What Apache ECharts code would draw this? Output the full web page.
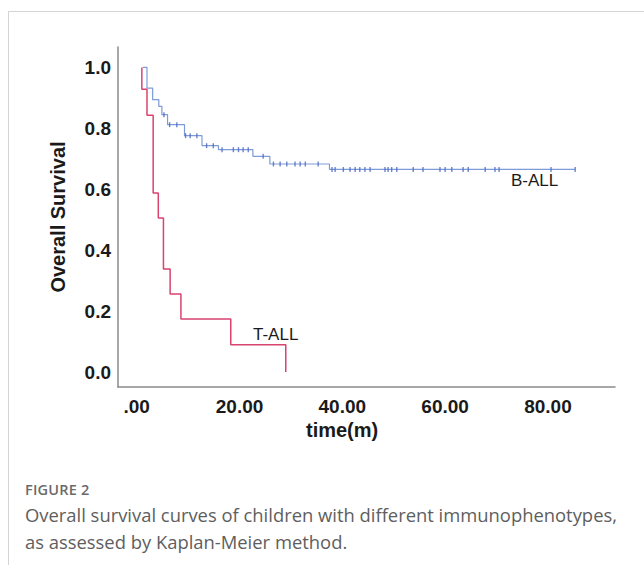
<!DOCTYPE html>
<html>
<head>
<meta charset="utf-8">
<script src="https://cdn.jsdelivr.net/npm/echarts@6/dist/echarts.min.js"></script>
<style>
  html, body { margin: 0; padding: 0; background: #fff; }
  #wrap { position: relative; width: 644px; height: 565px; overflow: hidden; background: #fff; }
  #card { position: absolute; left: 8px; top: 11px; width: 700px; height: 600px; border: 1px solid #d4d4d4; box-sizing: border-box; }
  #chart { position: absolute; left: 0; top: 0; width: 644px; height: 565px; }
  #cap { position: absolute; left: 25px; top: 480px; width: 612px; font-family: "Open Sans", "Noto Sans", sans-serif; color: #5e5e5e; }
  #cap .fig { font-size: 14.5px; font-weight: 600; color: #6a6a6a; letter-spacing: 0.2px; line-height: 20px; }
  #cap .txt { font-size: 18.4px; line-height: 26.5px; margin-top: 2px; white-space: nowrap; }
</style>
</head>
<body>
<div id="wrap">
  <div id="card"></div>
  <div id="chart"></div>
  <div id="cap">
    <div class="fig">FIGURE 2</div>
    <div class="txt">Overall survival curves of children with different immunophenotypes,<br>as assessed by Kaplan-Meier method.</div>
  </div>
</div>
<script>
// ---- data ----
// T-ALL Kaplan-Meier steps (time in months, survival after the step)
const tallTimes = [1.0, 1.0, 2.0, 3.2, 4.2, 5.2, 6.5, 8.6, 18.3, 29.0];
const tallSurv  = [1.0, 0.928, 0.843, 0.588, 0.506, 0.338, 0.256, 0.174, 0.09, 0.0];

// B-ALL Kaplan-Meier steps
const ballTimes = [1.2, 2.0, 3.1, 4.3, 4.9, 6.0, 9.3, 12.7, 15.9, 22.6, 25.9, 37.5, 85.3];
const ballSurv  = [1.0, 0.932, 0.894, 0.872, 0.845, 0.812, 0.776, 0.743, 0.730, 0.708, 0.683, 0.665, 0.665];

// B-ALL censored observations (time in months)
const ballCensor = [5.3, 6.4, 7.8, 9.5, 10.4, 11.7, 13.6, 14.9, 16.6, 18.8, 19.8, 20.7, 21.7,
  24.6, 26.6, 27.9, 29.2, 30.8, 31.8, 32.8, 35.3, 38.0, 38.6, 40.2, 41.5, 42.5, 43.4, 44.4,
  45.4, 48.3, 48.9, 49.6, 50.6, 53.8, 55.7, 59.0, 60.0, 61.3, 63.5, 64.5, 67.8, 69.7, 70.5,
  80.6, 85.3];

const xTicks = [0, 20, 40, 60, 80];
const yTicks = [0, 0.2, 0.4, 0.6, 0.8, 1.0];

const seriesNames = ['T-ALL', 'B-ALL'];

// ---- build ----
function pairs(ts, ss) { return ts.map((t, i) => [t, ss[i]]); }
function survAt(ts, ss, t) {
  let s = ss[0];
  for (let i = 0; i < ts.length; i++) { if (ts[i] <= t) s = ss[i]; }
  return s;
}
const censorPts = ballCensor.map(t => [t, survAt(ballTimes, ballSurv, t)]);

const chart = echarts.init(document.getElementById('chart'), null, { renderer: 'svg' });
const labelFont = { fontFamily: 'Liberation Sans, Arial, sans-serif', fontWeight: 'bold', fontSize: 19, color: '#1a1a1a' };

chart.setOption({
  animation: false,
  backgroundColor: 'transparent',
  grid: { left: 118, top: 47, width: 497, height: 340, containLabel: false },
  xAxis: {
    type: 'value', min: -3.64, max: 93.05,
    axisLine: { show: true, onZero: false, lineStyle: { color: '#8a8a8a', width: 1.5 } },
    axisTick: { show: false },
    splitLine: { show: false },
    axisLabel: Object.assign({ customValues: xTicks, margin: 10,
      formatter: v => (v === 0 ? '.00' : v.toFixed(2)) }, labelFont)
  },
  yAxis: {
    type: 'value', min: -0.049, max: 1.067,
    name: 'Overall Survival', nameLocation: 'middle', nameGap: 50, nameRotate: 90,
    nameTextStyle: { fontFamily: 'Liberation Sans, Arial, sans-serif', fontWeight: 'bold', fontSize: 20, color: '#1a1a1a' },
    axisLine: { show: true, onZero: false, lineStyle: { color: '#8a8a8a', width: 1.5 } },
    axisTick: { show: false },
    splitLine: { show: false },
    axisLabel: Object.assign({ customValues: yTicks, margin: 7,
      formatter: v => v.toFixed(1) }, labelFont)
  },
  series: [
    { name: seriesNames[1], type: 'line', step: 'end', data: pairs(ballTimes, ballSurv),
      showSymbol: false, symbol: 'none', lineStyle: { color: '#7d9bd8', width: 1.2 }, z: 2 },
    { name: seriesNames[1] + ' censored', type: 'scatter', data: censorPts,
      symbol: 'rect', symbolSize: [1.4, 5], itemStyle: { color: '#4a66c2' }, z: 3 },
    { name: seriesNames[0], type: 'line', step: 'end', data: pairs(tallTimes, tallSurv),
      showSymbol: false, symbol: 'none', lineStyle: { color: '#d8436f', width: 1.5 }, z: 4 }
  ],
  graphic: [
    { type: 'text', left: 306, top: 420, style: { text: 'time(m)', font: 'bold 20px "Liberation Sans", Arial, sans-serif', fill: '#1a1a1a' } },
    { type: 'text', left: 511, top: 172, style: { text: 'B-ALL', font: '17px "Liberation Sans", Arial, sans-serif', fill: '#1a1a1a' } },
    { type: 'text', left: 253, top: 326, style: { text: 'T-ALL', font: '17px "Liberation Sans", Arial, sans-serif', fill: '#1a1a1a' } }
  ]
});
</script>
</body>
</html>
